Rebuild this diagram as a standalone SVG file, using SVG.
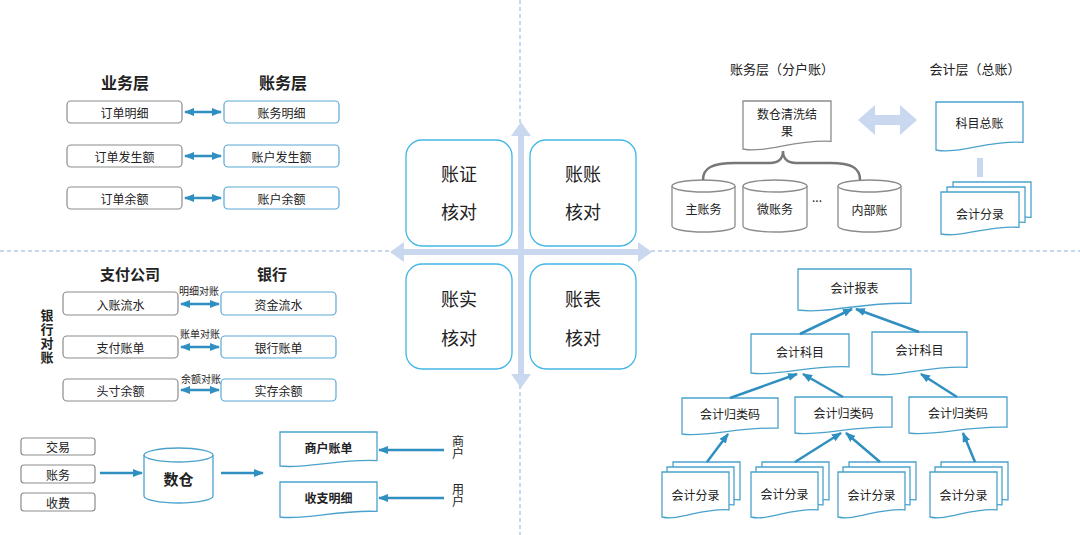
<svg xmlns="http://www.w3.org/2000/svg" width="1080" height="535" viewBox="0 0 1080 535">
<style>
.t{font-family:"Noto Sans CJK SC","Noto Sans",sans-serif;fill:#222;text-anchor:middle;dominant-baseline:central}
.s12{font-size:12px}
.s10{font-size:10px}
.s13{font-size:13px}
.s15{font-size:15px}
.s16{font-size:16px}
.s18{font-size:18px}
.b{font-weight:bold}
.v{writing-mode:vertical-rl}
.gbox{fill:#fff;stroke:#8c8c8c;stroke-width:1.2}
.bbox{fill:#fff;stroke:#5aaad2;stroke-width:1.2}
.qbox{fill:#fff;stroke:#41b6e6;stroke-width:1.3}
.doc{fill:#fff;stroke:#4aa2cc;stroke-width:1.3}
.gdoc{fill:#fff;stroke:#8c8c8c;stroke-width:1.3}
.cyl{fill:#fff;stroke:#4aa2cc;stroke-width:1.3}
.gcyl{fill:#fff;stroke:#8c8c8c;stroke-width:1.3}
.arr{stroke:#2f8fc0;stroke-width:2.5;fill:none;marker-end:url(#ah)}
.dbl{stroke:#2f8fc0;stroke-width:2.5;fill:none;marker-start:url(#ah);marker-end:url(#ah)}
.dash{stroke:#8fb0dc;stroke-width:1;stroke-dasharray:4 3;fill:none}
.light{fill:#c9d8ef}
</style>
<defs>
<marker id="ah" viewBox="0 0 10 8" refX="9" refY="4" markerWidth="4" markerHeight="3.2" orient="auto-start-reverse">
<path d="M0,0 L10,4 L0,8 z" fill="#2f8fc0"/>
</marker>
</defs>
<rect width="1080" height="535" fill="#fff"/>

<g id="dividers">
<line class="dash" x1="520" y1="0" x2="520" y2="535"/>
<line class="dash" x1="0" y1="251" x2="1080" y2="251"/>
</g>

<g id="center-arrows">
<polygon class="light" points="521,122 531,136 524,136 524,374 531,374 521,388 511,374 518,374 518,136 511,136"/>
<polygon class="light" points="390,252 404,242 404,249 638,249 638,242 652,252 638,262 638,255 404,255 404,262"/>
</g>

<g id="q-zhengzheng"><rect class="qbox" x="406" y="140" width="106" height="106" rx="16"/><text class="t s18" x="459" y="173">账证</text><text class="t s18" x="459" y="211">核对</text></g>
<g id="q-zhangzhang"><rect class="qbox" x="530" y="140" width="106" height="106" rx="16"/><text class="t s18" x="583" y="173">账账</text><text class="t s18" x="583" y="211">核对</text></g>
<g id="q-zhangshi"><rect class="qbox" x="406" y="264" width="106" height="105" rx="16"/><text class="t s18" x="459" y="298">账实</text><text class="t s18" x="459" y="337">核对</text></g>
<g id="q-zhangbiao"><rect class="qbox" x="530" y="264" width="106" height="105" rx="16"/><text class="t s18" x="583" y="298">账表</text><text class="t s18" x="583" y="337">核对</text></g>

<!-- top-left -->
<g id="tl-headers">
<text class="t b s16" x="125" y="82">业务层</text>
<text class="t b s16" x="283" y="82">账务层</text>
</g>
<g id="tl-1"><rect class="gbox" x="67" y="101" width="115" height="22" rx="4"/><text class="t s12" x="124.5" y="112">订单明细</text></g>
<g id="tl-2"><rect class="gbox" x="67" y="145" width="115" height="22" rx="4"/><text class="t s12" x="124.5" y="156">订单发生额</text></g>
<g id="tl-3"><rect class="gbox" x="67" y="187" width="115" height="22" rx="4"/><text class="t s12" x="124.5" y="198">订单余额</text></g>
<g id="tr-1"><rect class="bbox" x="224" y="101" width="115" height="22" rx="4"/><text class="t s12" x="281.5" y="112">账务明细</text></g>
<g id="tr-2"><rect class="bbox" x="224" y="145" width="115" height="22" rx="4"/><text class="t s12" x="281.5" y="156">账户发生额</text></g>
<g id="tr-3"><rect class="bbox" x="224" y="187" width="115" height="22" rx="4"/><text class="t s12" x="281.5" y="198">账户余额</text></g>

<!-- bottom-left -->
<g id="bl-headers">
<text class="t b s15" x="130" y="273">支付公司</text>
<text class="t b s15" x="272" y="273">银行</text>
<text class="t b s13 v" x="47" y="337" style="letter-spacing:1px">银行对账</text>
</g>
<g id="bl-1"><rect class="gbox" x="63" y="292" width="115" height="23" rx="4"/><text class="t s12" x="120.5" y="304">入账流水</text></g>
<g id="bl-2"><rect class="gbox" x="63" y="336" width="115" height="22" rx="4"/><text class="t s12" x="120.5" y="347">支付账单</text></g>
<g id="bl-3"><rect class="gbox" x="63" y="379" width="115" height="22" rx="4"/><text class="t s12" x="120.5" y="390">头寸余额</text></g>
<g id="br-1"><rect class="bbox" x="221" y="292" width="115" height="23" rx="4"/><text class="t s12" x="278.5" y="304">资金流水</text></g>
<g id="br-2"><rect class="bbox" x="221" y="336" width="115" height="22" rx="4"/><text class="t s12" x="278.5" y="347">银行账单</text></g>
<g id="br-3"><rect class="bbox" x="221" y="379" width="115" height="22" rx="4"/><text class="t s12" x="278.5" y="390">实存余额</text></g>
<g id="bl-labels">
<text class="t s10" x="199" y="290">明细对账</text>
<text class="t s10" x="200" y="333">账单对账</text>
<text class="t s10" x="201" y="378">余额对账</text>
</g>

<!-- bottom-bottom-left -->
<g id="src-jiaoyi"><rect class="gbox" x="21" y="438" width="74" height="17" rx="3"/><text class="t s12" x="58" y="446.5">交易</text></g>
<g id="src-zhangwu"><rect class="gbox" x="21" y="465" width="74" height="18" rx="3"/><text class="t s12" x="58" y="474">账务</text></g>
<g id="src-shoufei"><rect class="gbox" x="21" y="493" width="74" height="18" rx="3"/><text class="t s12" x="58" y="502">收费</text></g>
<g id="shucang">
<path class="cyl" d="M144 455 A34.5 7 0 0 1 213 455 V496 A34.5 7 0 0 1 144 496 Z"/>
<path class="cyl" d="M144 455 A34.5 7 0 0 0 213 455"/>
<text class="t b s15" x="178.5" y="478">数仓</text>
</g>
<g id="doc-shanghu">
<path class="doc" d="M280 432 H377 V460.6 C338.2 459 304.3 469.2 280 466 Z"/>
<text class="t b s12" x="328.5" y="447">商户账单</text>
</g>
<g id="doc-shouzhi">
<path class="doc" d="M280 482 H377 V511.4 C338.2 509.7 304.3 520.4 280 517 Z"/>
<text class="t b s12" x="328.5" y="497">收支明细</text>
</g>
<g id="lbl-shanghu"><text class="t s12 v" x="458" y="447">商户</text></g>
<g id="lbl-yonghu"><text class="t s12 v" x="458" y="495">用户</text></g>

<!-- top-right -->
<g id="tr-headers">
<text class="t s13" x="782" y="68">账务层（分户账）</text>
<text class="t s13" x="975" y="68">会计层（总账）</text>
</g>
<g id="doc-qingxi">
<path class="gdoc" d="M743 101 H831 V141.3 C795.8 139 765 153.6 743 149 Z"/>
<text class="t s12" x="787" y="113">数仓清洗结</text>
<text class="t s12" x="787" y="130">果</text>
</g>
<g id="cyl-zhu">
<path class="gcyl" d="M672 186 A31.5 6 0 0 1 735 186 V226 A31.5 6 0 0 1 672 226 Z"/>
<path class="gcyl" d="M672 186 A31.5 6 0 0 0 735 186"/>
<text class="t s12" x="703.5" y="208">主账务</text>
</g>
<g id="cyl-wei">
<path class="gcyl" d="M743 186 A32 6 0 0 1 807 186 V226 A32 6 0 0 1 743 226 Z"/>
<path class="gcyl" d="M743 186 A32 6 0 0 0 807 186"/>
<text class="t s12" x="775" y="208">微账务</text>
</g>
<text class="t s12" x="817" y="196">...</text>
<g id="cyl-nei">
<path class="gcyl" d="M838 186 A31.5 6 0 0 1 901 186 V226 A31.5 6 0 0 1 838 226 Z"/>
<path class="gcyl" d="M838 186 A31.5 6 0 0 0 901 186"/>
<text class="t s12" x="869.5" y="209">内部账</text>
</g>
<g id="doc-kemu">
<path class="doc" d="M936 102 H1023 V142.3 C988.2 140 957.8 154.6 936 150 Z"/>
<text class="t s12" x="979.5" y="122">科目总账</text>
</g>
<g id="stack-fenlu-top">
<path class="doc" d="M953 182 H1031 V217.3 C999.8 215.3 972.5 228 953 224 Z"/>
<path class="doc" d="M947 187 H1025 V222.3 C993.8 220.3 966.5 233 947 229 Z"/>
<path class="doc" d="M941 192 H1019 V227.3 C987.8 225.3 960.5 238 941 234 Z"/>
<text class="t s12" x="980" y="213">会计分录</text>
</g>

<!-- bottom-right -->
<g id="doc-baobiao">
<path class="doc" d="M798 269 H911 V303.4 C865.8 301.4 826.3 314 798 310 Z"/>
<text class="t s12" x="854.5" y="287">会计报表</text>
</g>
<g id="doc-kemu-l">
<path class="doc" d="M751 334 H849 V366.8 C809.8 364.9 775.5 376.7 751 373 Z"/>
<text class="t s12" x="800" y="351">会计科目</text>
</g>
<g id="doc-kemu-r">
<path class="doc" d="M872 332 H967 V367.3 C929 365.3 895.8 378 872 374 Z"/>
<text class="t s12" x="919.5" y="349">会计科目</text>
</g>
<g id="doc-gl-1">
<path class="doc" d="M682 398 H778 V428.2 C739.6 426.5 706 437.5 682 434 Z"/>
<text class="t s12" x="730" y="413">会计归类码</text>
</g>
<g id="doc-gl-2">
<path class="doc" d="M795 397 H892 V427.2 C853.2 425.5 819.3 436.5 795 433 Z"/>
<text class="t s12" x="843.5" y="412">会计归类码</text>
</g>
<g id="doc-gl-3">
<path class="doc" d="M909 397 H1007 V427.2 C967.8 425.5 933.5 436.5 909 433 Z"/>
<text class="t s12" x="958" y="412">会计归类码</text>
</g>
<g id="stack-fl-1">
<path class="doc" d="M673 462 H740 V499.8 C713.2 497.6 689.8 511.3 673 507 Z"/>
<path class="doc" d="M667 467 H734 V504.8 C707.2 502.6 683.8 516.3 667 512 Z"/>
<path class="doc" d="M662 472 H729 V509.8 C702.2 507.6 678.8 521.3 662 517 Z"/>
<text class="t s12" x="695.5" y="494">会计分录</text>
</g>
<g id="stack-fl-2">
<path class="doc" d="M762 462 H829 V499.8 C802.2 497.6 778.8 511.3 762 507 Z"/>
<path class="doc" d="M756 467 H823 V504.8 C796.2 502.6 772.8 516.3 756 512 Z"/>
<path class="doc" d="M751 472 H818 V509.8 C791.2 507.6 767.8 521.3 751 517 Z"/>
<text class="t s12" x="784.5" y="493">会计分录</text>
</g>
<g id="stack-fl-3">
<path class="doc" d="M849 462 H916 V499.8 C889.2 497.6 865.8 511.3 849 507 Z"/>
<path class="doc" d="M843 467 H910 V504.8 C883.2 502.6 859.8 516.3 843 512 Z"/>
<path class="doc" d="M838 472 H905 V509.8 C878.2 507.6 854.8 521.3 838 517 Z"/>
<text class="t s12" x="871.5" y="494">会计分录</text>
</g>
<g id="stack-fl-4">
<path class="doc" d="M941 462 H1008 V499.8 C981.2 497.6 957.8 511.3 941 507 Z"/>
<path class="doc" d="M935 467 H1002 V504.8 C975.2 502.6 951.8 516.3 935 512 Z"/>
<path class="doc" d="M930 472 H997 V509.8 C970.2 507.6 946.8 521.3 930 517 Z"/>
<text class="t s12" x="963.5" y="494">会计分录</text>
</g>

<g id="connectors">
<line class="dbl" x1="185" y1="112" x2="221" y2="112"/>
<line class="dbl" x1="185" y1="156" x2="221" y2="156"/>
<line class="dbl" x1="185" y1="198" x2="221" y2="198"/>
<line class="dbl" x1="181" y1="304" x2="219" y2="304"/>
<line class="dbl" x1="181" y1="347" x2="219" y2="347"/>
<line class="dbl" x1="181" y1="390" x2="219" y2="390"/>
<line class="arr" x1="100" y1="473" x2="142" y2="473"/>
<line class="arr" x1="221" y1="473" x2="263" y2="473"/>
<line class="arr" x1="444" y1="450" x2="379" y2="450"/>
<line class="arr" x1="444" y1="498" x2="379" y2="498"/>
<path d="M703 180 C703 168 712 163 735 163 H770 C779 163 783 158 783 151 C783 158 787 163 796 163 H830 C852 163 860 168 860 180" fill="none" stroke="#777" stroke-width="2.5"/>
<polygon class="light" points="858,120 875,105 875,115 900,115 900,105 917,120 900,135 900,125 875,125 875,135"/>
<rect class="light" x="977" y="158" width="6" height="19"/>
<line class="arr" x1="800" y1="334" x2="852" y2="309"/>
<line class="arr" x1="919" y1="332" x2="856" y2="309"/>
<line class="arr" x1="730" y1="398" x2="797" y2="374"/>
<line class="arr" x1="843" y1="397" x2="803" y2="374"/>
<line class="arr" x1="957" y1="397" x2="921" y2="374"/>
<line class="arr" x1="707" y1="462" x2="728" y2="434"/>
<line class="arr" x1="795" y1="462" x2="841" y2="433"/>
<line class="arr" x1="880" y1="462" x2="846" y2="433"/>
<line class="arr" x1="975" y1="462" x2="963" y2="433"/>
</g>
</svg>
